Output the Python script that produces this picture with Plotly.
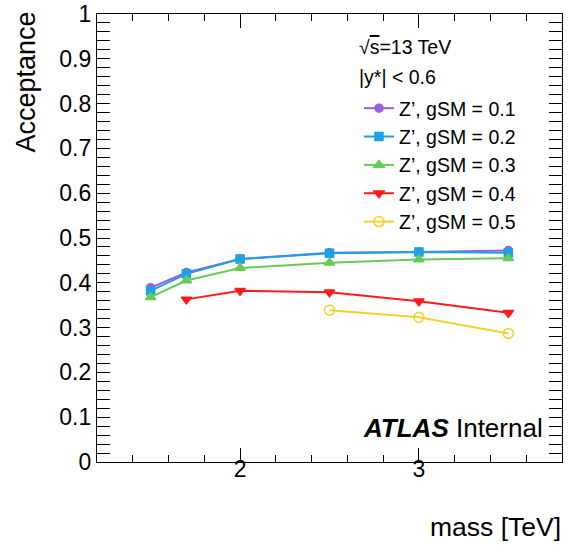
import plotly.graph_objects as go

mass_01 = [1.5, 1.7, 2.0, 2.5, 3.0, 3.5]
acc_01 = [0.389, 0.423, 0.453, 0.467, 0.469, 0.472]
mass_02 = [1.5, 1.7, 2.0, 2.5, 3.0, 3.5]
acc_02 = [0.382, 0.420, 0.453, 0.466, 0.469, 0.467]
mass_03 = [1.5, 1.7, 2.0, 2.5, 3.0, 3.5]
acc_03 = [0.368, 0.405, 0.433, 0.445, 0.452, 0.455]
mass_04 = [1.7, 2.0, 2.5, 3.0, 3.5]
acc_04 = [0.363, 0.382, 0.379, 0.359, 0.333]
mass_05 = [2.5, 3.0, 3.5]
acc_05 = [0.339, 0.323, 0.287]

names = ["Z’, gSM = 0.1", "Z’, gSM = 0.2", "Z’, gSM = 0.3", "Z’, gSM = 0.4", "Z’, gSM = 0.5"]
colors = ["#9a5fdc", "#1ea0e6", "#66cc55", "#ff1a1a", "#f2d32a"]
symbols = ["circle", "square", "triangle-up", "triangle-down", "circle-open"]
sizes = [8, 8, 9, 9, 10]
xs = [mass_01, mass_02, mass_03, mass_04, mass_05]
ys = [acc_01, acc_02, acc_03, acc_04, acc_05]

FONT = "Liberation Sans, Arial, Helvetica, sans-serif"

fig = go.Figure()
for x, y, n, c, s, sz in zip(xs, ys, names, colors, symbols, sizes):
    fig.add_trace(go.Scatter(
        x=x, y=y, name=n, mode="lines+markers",
        line=dict(color=c, width=2),
        marker=dict(color=c, symbol=s, size=sz, line=dict(color=c, width=1.5)),
    ))

W, H = 574, 548
L, R, T, B = 97, 12, 14, 86
pw, ph = W - L - R, H - T - B

def px(x):
    return (x - L) / pw

def py(y):
    return (H - B - y) / ph

axis_common = dict(
    showgrid=False, zeroline=False, showline=True, linecolor="black", linewidth=1.2,
    mirror="allticks", ticks="inside", tickcolor="black", tickwidth=1.2, automargin=False,
    tickfont=dict(family=FONT, size=23, color="black"),
)

XRANGE = [1.2, 3.8]
fig.update_layout(
    width=W, height=H,
    margin=dict(l=L, r=R, t=T, b=B, pad=0),
    plot_bgcolor="white", paper_bgcolor="white",
    font=dict(family=FONT, color="black"),
    xaxis=dict(range=XRANGE, tick0=0, dtick=1, ticklen=14, showticklabels=False,
               minor=dict(dtick=0.2, tick0=0, ticks="inside", ticklen=7, tickcolor="black", tickwidth=1.2),
               **axis_common),
    # label-only axis, raised slightly so the labels sit close to the frame as in ROOT
    xaxis2=dict(range=XRANGE, tick0=0, dtick=1, overlaying="x", matches="x", anchor="free",
                position=9 / ph, side="bottom", showline=False, showgrid=False, zeroline=False,
                ticks="", automargin=False, tickfont=dict(family=FONT, size=23, color="black")),
    yaxis=dict(range=[0, 1], tick0=0, dtick=0.1, ticklen=13,
               minor=dict(dtick=0.02, tick0=0, ticks="inside", ticklen=7, tickcolor="black", tickwidth=1.2),
               **axis_common),
    showlegend=True,
    legend=dict(x=px(359), y=py(89), xanchor="left", yanchor="top",
                font=dict(family=FONT, size=19.5, color="black"),
                bgcolor="rgba(0,0,0,0)", itemwidth=30, tracegroupgap=0),
)
# invisible carrier so the label axis is drawn
fig.add_trace(go.Scatter(x=XRANGE, y=[None, None], xaxis="x2", mode="lines",
                         showlegend=False, hoverinfo="skip"))

ann_font = dict(family=FONT, color="black")
fig.add_annotation(xref="paper", yref="paper", x=px(357), y=py(47), xanchor="left", yanchor="middle",
                   text="√<span style='text-decoration:overline'>s</span>=13 TeV", showarrow=False,
                   font=dict(size=19.5, **ann_font))
fig.add_annotation(xref="paper", yref="paper", x=px(357), y=py(77), xanchor="left", yanchor="middle",
                   text="|y*| < 0.6", showarrow=False, font=dict(size=19.5, **ann_font))
fig.add_annotation(xref="paper", yref="paper", x=px(545), y=py(428), xanchor="right", yanchor="middle",
                   text="<b><i>ATLAS</i></b> Internal", showarrow=False, font=dict(size=26, **ann_font))
fig.add_annotation(xref="paper", yref="paper", x=px(25), y=py(10), xanchor="center", yanchor="top",
                   text="Acceptance", textangle=-90, showarrow=False, font=dict(size=27, **ann_font))
fig.add_annotation(xref="paper", yref="paper", x=px(563), y=py(527), xanchor="right", yanchor="middle",
                   text="mass [TeV]", showarrow=False, font=dict(size=26.5, **ann_font))

fig.write_html("out.html")
